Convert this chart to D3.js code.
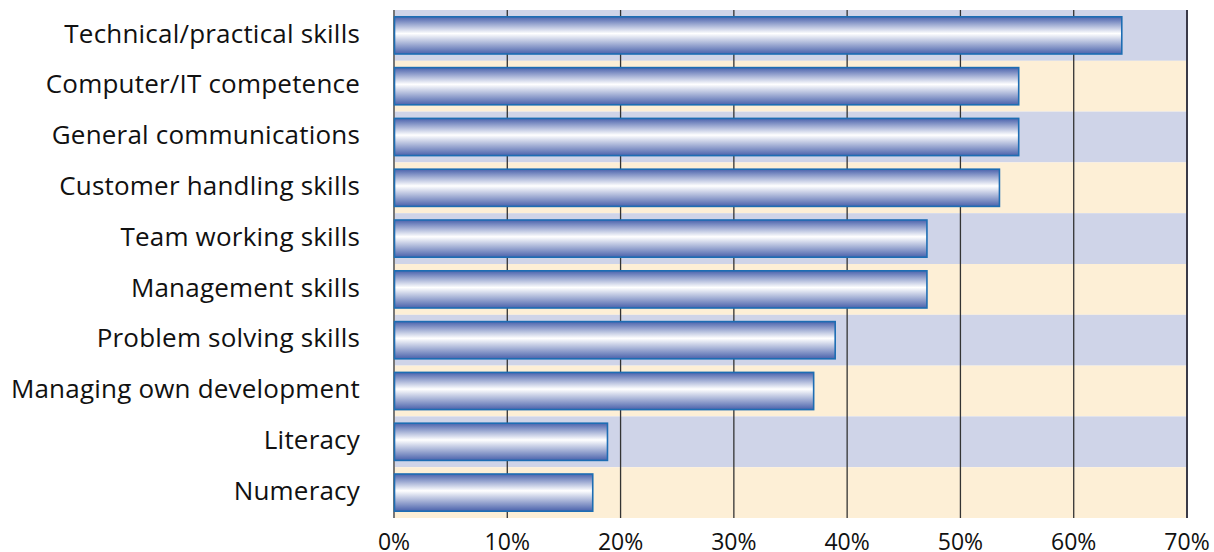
<!DOCTYPE html>
<html>
<head>
<meta charset="utf-8">
<script src="https://cdn.jsdelivr.net/npm/d3@7"></script>
<style>
  body { margin: 0; background: #fff; }
  svg { display: block; }
</style>
</head>
<body>
<svg id="chart" width="1214" height="552"></svg>
<script>
const categories = [
  "Technical/practical skills",
  "Computer/IT competence",
  "General communications",
  "Customer handling skills",
  "Team working skills",
  "Management skills",
  "Problem solving skills",
  "Managing own development",
  "Literacy",
  "Numeracy"
];
const values = [64.2, 55.1, 55.1, 53.4, 47, 47, 38.9, 37, 18.8, 17.5];
const ticks = [0, 10, 20, 30, 40, 50, 60, 70];
const bandColors = ["#cfd4e8", "#fdefd6"];

const svg = d3.select("#chart");
const margin = { left: 394, right: 27, top: 10, bottom: 34 };
const width = 1214, height = 552;

const x = d3.scaleLinear().domain([0, 70]).range([margin.left, width - margin.right]);
const y = d3.scaleBand().domain(categories).range([margin.top, height - margin.bottom]).paddingInner(0).paddingOuter(0);

// bar gradient
const defs = svg.append("defs");
const grad = defs.append("linearGradient")
  .attr("id", "barGrad").attr("x1", 0).attr("y1", 0).attr("x2", 0).attr("y2", 1);
grad.append("stop").attr("offset", "0%").attr("stop-color", "#4a62ac");
grad.append("stop").attr("offset", "45%").attr("stop-color", "#ffffff");
grad.append("stop").attr("offset", "100%").attr("stop-color", "#4a62ac");

// background bands
svg.append("g").selectAll("rect")
  .data(categories)
  .enter().append("rect")
  .attr("x", x(0))
  .attr("y", d => y(d))
  .attr("width", x(70) - x(0))
  .attr("height", y.bandwidth())
  .attr("fill", (d, i) => bandColors[i % 2]);

// grid lines
svg.append("g").selectAll("line")
  .data(ticks.slice(1))
  .enter().append("line")
  .attr("x1", d => x(d)).attr("x2", d => x(d))
  .attr("y1", margin.top).attr("y2", height - margin.bottom)
  .attr("stroke", d => d === 70 ? "#3a3a48" : "#333")
  .attr("stroke-width", d => d === 70 ? 2 : 1.3);

svg.append("line")
  .attr("x1", x(0)).attr("x2", x(0))
  .attr("y1", margin.top).attr("y2", height - margin.bottom)
  .attr("stroke", "#777").attr("stroke-width", 2);

// bars
const barPad = 6.8;
svg.append("g").selectAll("rect")
  .data(values)
  .enter().append("rect")
  .attr("x", x(0) + 0.5)
  .attr("y", (d, i) => y(categories[i]) + barPad)
  .attr("width", d => x(d) - x(0))
  .attr("height", y.bandwidth() - 2 * barPad)
  .attr("fill", "url(#barGrad)")
  .attr("stroke", "#1d6db3")
  .attr("stroke-width", 1.6);

// category labels
svg.append("g").selectAll("text")
  .data(categories)
  .enter().append("text")
  .attr("x", 360)
  .attr("y", d => y(d) + y.bandwidth() / 2 - 2)
  .attr("dy", "0.35em")
  .attr("text-anchor", "end")
  .attr("font-family", "'Open Sans', sans-serif")
  .attr("font-size", 26)
  .attr("letter-spacing", 0.2)
  .attr("fill", "#111")
  .text(d => d);

// x tick labels
svg.append("g").selectAll("text")
  .data(ticks)
  .enter().append("text")
  .attr("x", d => x(d))
  .attr("y", 542)
  .attr("dy", "0.35em")
  .attr("text-anchor", "middle")
  .attr("font-family", "'Open Sans', sans-serif")
  .attr("font-size", 23)
  .attr("fill", "#111")
  .text(d => d + "%");
</script>
</body>
</html>
